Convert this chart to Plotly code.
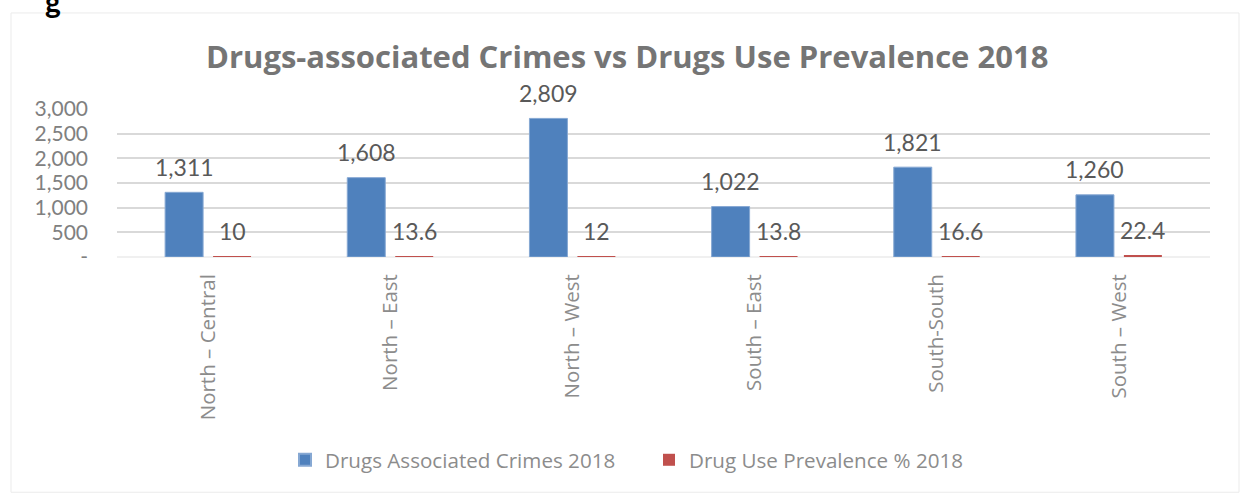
import plotly.graph_objects as go

regions = ["North – Central", "North – East", "North – West", "South – East", "South-South", "South – West"]
crimes = [1311, 1608, 2809, 1022, 1821, 1260]
prevalence = [10, 13.6, 12, 13.8, 16.6, 22.4]
crimes_labels = ["1,311", "1,608", "2,809", "1,022", "1,821", "1,260"]
prevalence_labels = ["10", "13.6", "12", "13.8", "16.6", "22.4"]
y_tickvals = [0, 500, 1000, 1500, 2000, 2500, 3000]
y_ticktext = ["-", "500", "1,000", "1,500", "2,000", "2,500", "3,000"]

W, H = 1241, 493
L, R, T, B = 117, 31, 109, 233
PW = W - L - R
PH = H - T - B


def px(x):
    return (x - L) / PW


def py(y):
    return (H - B - y) / PH


FONT = "Lato"
FONT2 = "Open Sans"
BLUE = "#4f81bd"
RED = "#c0504d"

fig = go.Figure()
fig.add_bar(x=regions, y=crimes, name="Drugs Associated Crimes 2018",
            marker=dict(color=BLUE, line=dict(color="#86a8d3", width=1)))
fig.add_bar(x=regions, y=prevalence, name="Drug Use Prevalence % 2018",
            marker=dict(color=RED, line=dict(width=0)))

annotations = []
for r, v, t in zip(regions, crimes, crimes_labels):
    annotations.append(dict(x=r, y=v, xref="x", yref="y", text=t, showarrow=False,
                            xshift=-24, yshift=25.5, yanchor="middle", xanchor="center",
                            font=dict(family=FONT, size=23, color="#595959")))
for r, v, t in zip(regions, prevalence, prevalence_labels):
    annotations.append(dict(x=r, y=v, xref="x", yref="y", text=t, showarrow=False,
                            xshift=24, yshift=25.5, yanchor="middle", xanchor="center",
                            font=dict(family=FONT, size=23, color="#595959")))

annotations.append(dict(x=px(627), y=py(55), xref="paper", yref="paper",
                        text="<b>Drugs-associated Crimes vs Drugs Use Prevalence 2018</b>",
                        showarrow=False, xanchor="center", yanchor="middle",
                        font=dict(family=FONT2, size=31, color="#757575")))
annotations.append(dict(x=px(53), y=py(-1), xref="paper", yref="paper",
                        text="<b>g</b>", showarrow=False, xanchor="center", yanchor="middle",
                        font=dict(family=FONT, size=30, color="#000000")))

shapes = [dict(type="rect", xref="paper", yref="paper",
               x0=px(11), x1=px(1239), y0=py(500), y1=py(11),
               line=dict(color="#ebebeb", width=1), fillcolor="rgba(0,0,0,0)", layer="below")]

fig.update_layout(
    width=W, height=H,
    margin=dict(l=L, r=R, t=T, b=B, pad=0),
    paper_bgcolor="white", plot_bgcolor="white",
    barmode="group", bargap=0.4735, bargroupgap=0.208,
    font=dict(family=FONT, color="#808080"),
    showlegend=True,
    legend=dict(orientation="h", x=px(285), y=py(467), xanchor="left", yanchor="middle",
                font=dict(family=FONT2, size=20.6, color="#8c8c8c"),
                itemwidth=30, itemsizing="constant", entrywidth=319,
                bgcolor="rgba(0,0,0,0)"),
    annotations=annotations,
    shapes=shapes,
)
fig.update_xaxes(tickangle=-90, tickfont=dict(family=FONT2, size=20.5, color="#8c8c8c"),
                 showgrid=False, showline=False, ticks="", ticklabelstandoff=12)
fig.update_yaxes(range=[0, 3000], tickvals=y_tickvals, ticktext=y_ticktext,
                 tickfont=dict(family=FONT, size=21, color="#808080"),
                 showgrid=True, gridcolor="#d9d9d9", gridwidth=1.5,
                 zeroline=True, zerolinecolor="#f0f0f0", zerolinewidth=2,
                 showline=False, ticks="", ticklabelstandoff=28)

fig.write_html("out.html")
